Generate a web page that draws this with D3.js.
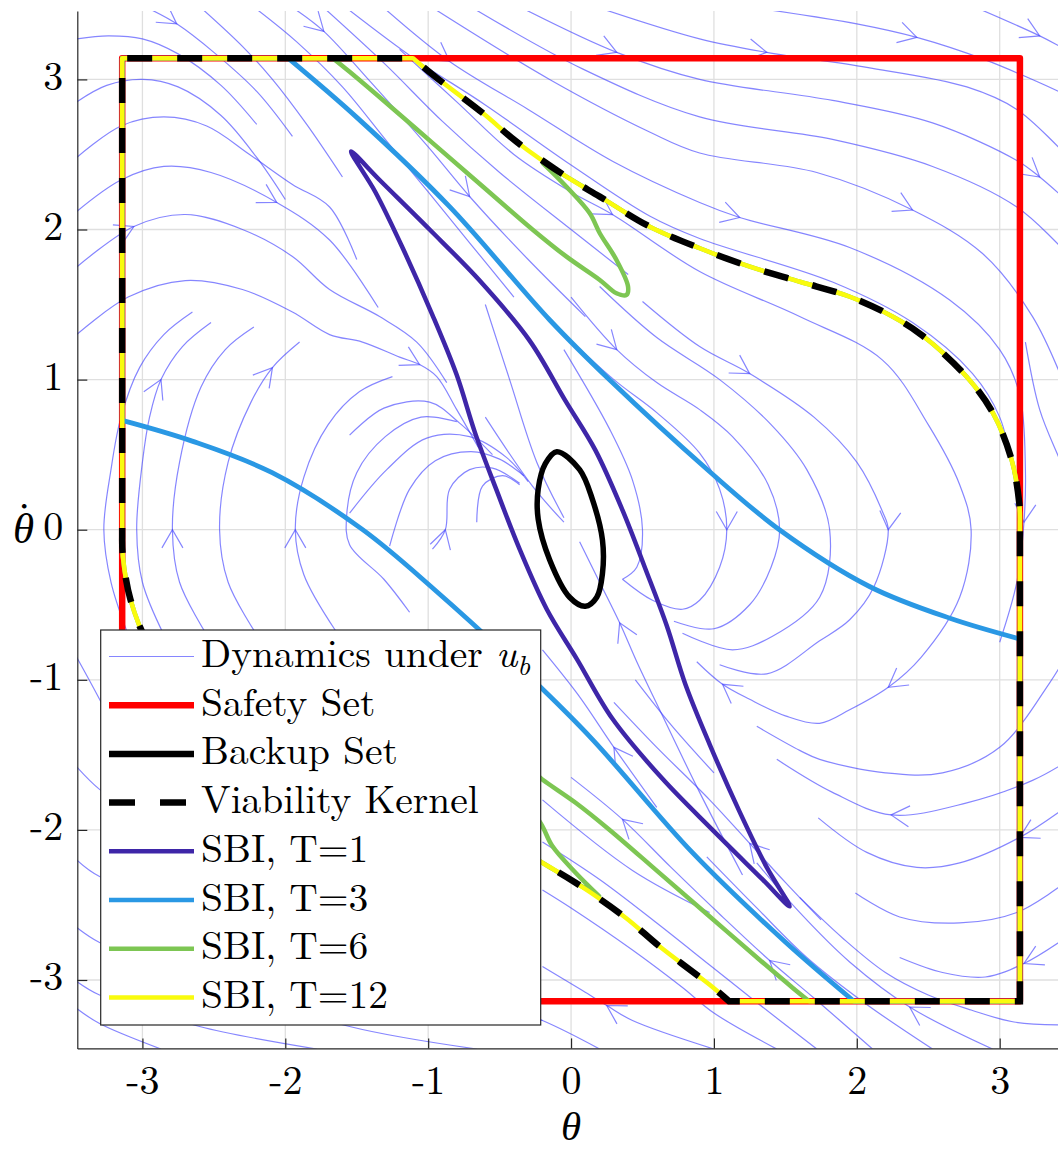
<!DOCTYPE html>
<html>
<head>
<meta charset="utf-8">
<script src="https://cdn.jsdelivr.net/npm/d3@7"></script>
<style>
  body { margin: 0; background: #fff; }
  text { font-family: "CMU Serif", "Latin Modern Roman", "Liberation Serif", "Times New Roman", serif; fill: #000; }
</style>
</head>
<body>
<svg id="chart" width="1058" height="1153"></svg>
<script>
const PI = Math.PI;

// ---- data (theta, theta_dot) ----
const tickValues = [-3, -2, -1, 0, 1, 2, 3];

// corners of the safety set [-pi, pi] x [-pi, pi]
const safetySet = [[-PI, PI], [PI, PI], [PI, -PI], [-PI, -PI]];

const backupSet = [[-0.10, 0.52], [0.06, 0.40], [0.15, 0.20], [0.22, -0.07], [0.22, -0.29], [0.18, -0.45],
  [0.10, -0.51], [-0.01, -0.45], [-0.15, -0.20], [-0.23, 0.07], [-0.23, 0.27], [-0.18, 0.44]];

// curved branches of the viability kernel (the rest runs along the safety set)
const kernelUpper = [[-1.106, PI], [-0.966, 3.029], [-0.616, 2.774], [-0.382, 2.585], [-0.032, 2.352],
  [0.201, 2.219], [0.551, 2.019], [0.901, 1.875], [1.252, 1.752], [1.602, 1.652], [1.952, 1.552],
  [2.253, 1.419], [2.45, 1.30], [2.769, 1.019], [2.953, 0.777], [3.084, 0.464], [3.137, 0.178], [PI, 0.05]];
const kernelLower = [[1.106, -PI], [0.966, -3.029], [0.616, -2.774], [0.382, -2.585], [0.032, -2.352],
  [-0.201, -2.219], [-0.551, -2.019], [-0.901, -1.875], [-1.252, -1.752], [-1.602, -1.652], [-1.952, -1.552],
  [-2.253, -1.419], [-2.45, -1.30], [-2.769, -1.019], [-2.953, -0.777], [-3.084, -0.464], [-3.137, -0.178], [-PI, -0.05]];

// SBI, T=12 lies on the kernel
const sbiT12Upper = kernelUpper;
const sbiT12Lower = kernelLower;

// SBI, T=6: notch branch, then the rim that follows the kernel
const sbiT6UpperNotch = [[-1.667, PI], [-1.550, 3.051], [-1.317, 2.863], [-0.966, 2.574], [-0.616, 2.285], [-0.266, 1.997],
  [-0.032, 1.819], [0.201, 1.664], [0.318, 1.575], [0.388, 1.564], [0.399, 1.619], [0.318, 1.797], [0.201, 1.975],
  [0.131, 2.108], [-0.032, 2.285], [-0.196, 2.441]];
const sbiT6UpperRim = [[-0.196, 2.441], [-0.032, 2.352], [0.201, 2.219], [0.551, 2.019], [0.901, 1.875],
  [1.252, 1.752], [1.602, 1.652], [1.952, 1.552], [2.253, 1.419], [2.45, 1.30], [2.769, 1.019], [2.953, 0.777],
  [3.084, 0.464], [3.137, 0.178], [PI, 0.05]];
const sbiT6LowerNotch = [[1.667, -PI], [1.550, -3.051], [1.317, -2.863], [0.966, -2.574], [0.616, -2.285], [0.266, -1.997],
  [0.032, -1.819], [-0.201, -1.664], [-0.318, -1.575], [-0.388, -1.564], [-0.399, -1.619], [-0.318, -1.797], [-0.201, -1.975],
  [-0.131, -2.108], [0.032, -2.285], [0.196, -2.441]];
const sbiT6LowerRim = [[0.196, -2.441], [0.032, -2.352], [-0.201, -2.219], [-0.551, -2.019], [-0.901, -1.875],
  [-1.252, -1.752], [-1.602, -1.652], [-1.952, -1.552], [-2.253, -1.419], [-2.45, -1.30], [-2.769, -1.019], [-2.953, -0.777],
  [-3.084, -0.464], [-3.137, -0.178], [-PI, -0.05]];

// SBI, T=3
const sbiT3Upper = [[-1.98, PI], [-1.494, 2.742], [-0.850, 2.152], [-0.149, 1.397], [0.271, 0.997], [0.957, 0.398],
  [1.461, -0.002], [2.092, -0.380], [2.652, -0.590], [PI, -0.728]];
const sbiT3Lower = [[1.98, -PI], [1.494, -2.742], [0.850, -2.152], [0.149, -1.397], [-0.271, -0.997], [-0.957, -0.398],
  [-1.461, 0.002], [-2.092, 0.380], [-2.652, 0.590], [-PI, 0.728]];

// SBI, T=1 (closed loop)
const sbiT1 = [[-1.54, 2.52], [-1.34, 2.33], [-0.99, 2.00], [-0.64, 1.66], [-0.29, 1.26], [-0.04, 0.86], [0.17, 0.53],
  [0.36, 0.13], [0.52, -0.26], [0.67, -0.64], [0.80, -1.03], [0.97, -1.43], [1.18, -1.88], [1.37, -2.25], [1.53, -2.51],
  [1.34, -2.33], [0.99, -2.00], [0.64, -1.66], [0.29, -1.26], [0.04, -0.86], [-0.17, -0.53], [-0.36, -0.13], [-0.52, 0.26],
  [-0.67, 0.64], [-0.80, 1.03], [-0.97, 1.43], [-1.18, 1.88], [-1.37, 2.25]];

// streamlines of the dynamics under u_b (points ordered along the flow)
const streamlines = [
  [[1.41, 3.46], [2.0, 3.37], [2.42, 3.28], [2.9, 3.13], [3.46, 2.9]],
  [[2.88, 3.46], [3.28, 3.29], [3.46, 3.2]],
  [[0.25, 3.46], [0.9, 3.27], [1.37, 3.18], [2.07, 3.08], [2.77, 2.95], [3.12, 2.8], [3.46, 2.5]],
  [[-0.31, 3.46], [0.32, 3.18], [0.9, 3.0], [1.83, 2.86], [2.53, 2.71], [3.12, 2.46], [3.28, 2.35], [3.46, 2.2]],
  [[-0.66, 3.46], [0.08, 3.07], [0.9, 2.75], [1.83, 2.6], [2.53, 2.42], [3.12, 2.15], [3.46, 1.85]],
  [[-0.94, 3.46], [-0.15, 3.0], [0.55, 2.65], [0.9, 2.51], [1.72, 2.38], [2.39, 2.13], [2.88, 1.84], [3.23, 1.42], [3.46, 0.95]],
  [[-1.29, 3.46], [-0.85, 3.12], [-0.3, 2.8], [0.3, 2.45], [0.9, 2.18], [1.18, 2.08], [1.95, 1.88], [2.65, 1.53], [3.0, 1.2],
    [3.14, 0.9], [3.18, 0.4], [3.17, 0.05], [3.12, -0.35], [3.0, -0.75]],
  [[-1.55, 3.46], [-1.1, 3.14], [-0.6, 2.83], [0.0, 2.43], [0.55, 2.09], [0.9, 1.94], [1.83, 1.65], [2.39, 1.38], [2.81, 1.04],
    [3.0, 0.75], [3.1, 0.35]],
  [[-2.93, 3.46], [-2.76, 3.37], [-2.5, 3.18], [-2.2, 2.92], [-1.95, 2.62]],
  [[-2.57, 3.46], [-2.3, 3.22], [-2.09, 3.0], [-1.85, 2.7], [-1.6, 2.35]],
  [[-2.19, 3.46], [-1.92, 3.25], [-1.6, 2.95], [-1.3, 2.6], [-1.0, 2.25], [-0.7, 1.9], [-0.4, 1.55]],
  [[-1.92, 3.46], [-1.73, 3.32], [-1.4, 2.98], [-1.0, 2.55], [-0.71, 2.22], [-0.3, 1.8], [0.1, 1.42]],
  [[-1.71, 3.46], [-1.3, 3.1], [-0.9, 2.72], [-0.5, 2.38], [0.0, 2.0], [0.4, 1.7]],
  [[-0.1, 1.35], [0.3, 1.0], [0.6, 0.78], [0.9, 0.51], [1.04, 0.27], [1.09, 0.0], [1.04, -0.25], [0.9, -0.47], [0.78, -0.53],
    [0.57, -0.47], [0.36, -0.33]],
  [[0.0, 1.55], [0.32, 1.2], [0.6, 0.98], [0.9, 0.8], [1.13, 0.62], [1.38, 0.3], [1.46, 0.0], [1.4, -0.25], [1.25, -0.5],
    [1.0, -0.66], [0.72, -0.61]],
  [[0.2, 1.62], [0.6, 1.28], [1.04, 1.0], [1.4, 0.7], [1.65, 0.4], [1.81, 0.0], [1.74, -0.45], [1.41, -0.71], [1.13, -0.8],
    [0.78, -0.69]],
  [[0.5, 1.52], [0.9, 1.22], [1.25, 1.04], [1.7, 0.75], [2.0, 0.45], [2.18, 0.12], [2.22, 0.0], [2.12, -0.38], [1.95, -0.6],
    [1.74, -0.74], [1.37, -0.96], [1.04, -0.9]],
  [[-1.2, 3.2], [-0.8, 2.85], [-0.4, 2.5], [0.0, 2.25], [0.29, 2.1], [0.9, 1.72], [1.6, 1.42], [2.18, 1.13], [2.5, 0.7],
    [2.72, 0.3], [2.8, 0.0], [2.72, -0.45], [2.45, -0.85], [2.22, -1.05], [1.95, -1.2], [1.74, -1.29], [1.5, -1.24],
    [1.25, -1.13], [1.06, -1.03], [0.88, -0.88]],
  [[-3.46, 3.27], [-3.24, 3.29], [-3.0, 3.27], [-2.75, 3.17], [-2.45, 2.96], [-2.2, 2.7]],
  [[-3.46, 2.85], [-3.25, 2.96], [-3.0, 3.0], [-2.75, 2.95], [-2.45, 2.76], [-2.2, 2.48], [-2.0, 2.2]],
  [[-3.46, 2.48], [-3.15, 2.69], [-2.85, 2.75], [-2.55, 2.69], [-2.25, 2.5], [-1.95, 2.3], [-1.69, 2.15], [-1.5, 1.8]],
  [[-3.46, 2.12], [-3.15, 2.33], [-2.85, 2.42], [-2.52, 2.38], [-2.06, 2.18], [-1.69, 1.93], [-1.35, 1.48]],
  [[-3.46, 1.75], [-3.06, 2.02], [-2.7, 2.1], [-2.3, 2.0], [-1.95, 1.82], [-1.69, 1.6], [-1.34, 1.42], [-1.08, 1.25],
    [-0.87, 0.98]],
  [[-3.46, 1.3], [-3.1, 1.55], [-2.7, 1.66], [-2.3, 1.6], [-1.95, 1.45], [-1.69, 1.3], [-1.46, 1.25], [-1.2, 1.15],
    [-1.06, 1.1], [-0.94, 1.02], [-0.8, 0.8], [-0.65, 0.55]],
  [[-3.1, -0.7], [-3.22, -0.35], [-3.27, 0.0], [-3.22, 0.4], [-3.15, 0.75], [-3.02, 1.08], [-2.85, 1.3], [-2.65, 1.45]],
  [[-2.85, -0.7], [-3.0, -0.35], [-3.04, 0.0], [-3.0, 0.45], [-2.95, 0.75], [-2.87, 1.0], [-2.72, 1.22], [-2.52, 1.38]],
  [[-2.55, -0.7], [-2.74, -0.35], [-2.79, 0.0], [-2.74, 0.45], [-2.59, 0.95], [-2.42, 1.2], [-2.22, 1.35]],
  [[-2.2, -0.7], [-2.4, -0.35], [-2.46, 0.0], [-2.4, 0.45], [-2.24, 0.85], [-2.09, 1.08], [-1.9, 1.25]],
  [[-1.65, -0.67], [-1.87, -0.3], [-1.93, 0.0], [-1.87, 0.35], [-1.7, 0.7], [-1.48, 0.92], [-1.25, 1.02]],
  [[-1.13, -0.55], [-1.31, -0.33], [-1.55, -0.1], [-1.57, 0.1], [-1.5, 0.38], [-1.3, 0.62], [-1.05, 0.75], [-0.8, 0.72]],
  [[-0.97, -0.13], [-0.88, 0.0], [-0.85, 0.27], [-0.71, 0.4], [-0.55, 0.41], [-0.36, 0.31]],
  [[-1.27, -0.11], [-1.13, 0.27], [-0.95, 0.46], [-0.7, 0.52], [-0.5, 0.47], [-0.33, 0.36]],
  [[-1.55, 0.11], [-1.29, 0.4], [-1.01, 0.61], [-0.71, 0.62], [-0.45, 0.48], [-0.3, 0.32]],
  [[-1.55, 0.63], [-1.31, 0.81], [-0.99, 0.85], [-0.78, 0.71], [-0.55, 0.5]],
  [[-0.66, 0.05], [-0.62, 0.29], [-0.48, 0.36], [-0.36, 0.3]],
  [[-0.6, 0.75], [-0.27, 0.29], [-0.05, 0.05]],
  [[1.2, -2.3], [0.9, -1.75], [0.62, -1.2], [0.46, -0.88], [0.34, -0.62], [0.2, -0.35], [0.06, -0.08]],
  [[-0.6, 1.5], [-0.43, 1.0], [-0.24, 0.45], [-0.05, 0.08]],
  [[-0.05, 1.2], [0.27, 0.67], [0.43, 0.33], [0.5, 0.0], [0.46, -0.25], [0.36, -0.33]],
  [[3.46, -1.55], [3.23, -1.67], [2.77, -1.82], [2.24, -1.9], [1.83, -1.75], [1.44, -1.53]],
  [[3.46, -1.85], [3.14, -2.05], [2.72, -2.22], [2.42, -2.25], [2.07, -2.15], [1.73, -1.92]],
  [[3.46, -2.35], [3.12, -2.55], [2.72, -2.62], [2.3, -2.58], [1.99, -2.42]],
  [[3.46, -2.72], [3.17, -2.89], [2.9, -2.98], [2.6, -2.95], [2.3, -2.85]],
  [[3.46, -3.3], [3.1, -3.28], [2.8, -3.2], [2.5, -3.1], [2.2, -2.95], [1.9, -2.72], [1.6, -2.45]],
  [[2.95, -3.46], [2.37, -3.18], [1.95, -2.88], [1.6, -2.55], [1.3, -2.22]],
  [[2.53, -3.46], [2.05, -3.15], [1.65, -2.85], [1.3, -2.52], [0.95, -2.18]],
  [[2.11, -3.46], [1.7, -3.12], [1.39, -2.87], [1.05, -2.57], [0.7, -2.25], [0.36, -1.93], [0.0, -1.65]],
  [[1.72, -3.46], [1.3, -3.15], [0.97, -2.9], [0.6, -2.62], [0.2, -2.33], [-0.2, -2.08]],
  [[1.44, -3.46], [1.0, -3.22], [0.78, -3.05], [0.43, -2.8], [0.0, -2.52], [-0.2, -2.4]],
  [[1.0, -3.46], [0.43, -3.27], [0.25, -3.17], [0.08, -3.07], [-0.2, -2.91]],
  [[0.2, -3.46], [-0.2, -3.27], [-0.7, -3.1]],
  [[1.75, -2.6], [1.5, -2.35], [1.25, -2.09], [0.97, -1.8], [0.6, -1.45], [0.3, -1.15]],
  [[0.97, -2.55], [0.43, -2.27], [-0.2, -1.8]],
  [[3.18, 1.25], [3.28, 0.8], [3.41, 0.49], [3.46, 0.38]],
  [[3.46, -0.85], [3.35, -1.02], [3.0, -1.45], [2.6, -1.62], [2.2, -1.62], [1.74, -1.53], [1.6, -1.47], [1.3, -1.31]],
  [[0.6, -1.85], [0.3, -1.45], [0.05, -1.1], [-0.2, -0.8]],
  [[1.0, -1.62], [0.7, -1.3], [0.45, -1.0]],
  [[-0.66, -3.46], [-1.55, -3.31], [-2.4, -3.05], [-3.0, -2.85], [-3.3, -2.75], [-3.46, -2.65]],
  [[-1.78, -3.46], [-2.6, -3.31], [-3.0, -3.18], [-3.3, -3.1], [-3.46, -3.01]],
  [[-2.87, -3.46], [-3.3, -3.29], [-3.46, -3.19]],
  [[-0.2, -3.27], [-1.0, -3.02], [-2.0, -2.7], [-2.8, -2.45], [-3.3, -2.31], [-3.46, -2.2]],
  [[-0.5, -2.85], [-1.5, -2.5], [-2.5, -2.1], [-3.1, -1.85], [-3.3, -1.73], [-3.46, -1.58]],
  [[-3.05, -1.6], [-3.3, -1.13], [-3.46, -0.85]]
];

// arrowheads: [streamline index, point index]
const streamArrows = [[0, 2], [1, 1], [2, 2], [3, 1], [3, 6], [5, 5], [6, 1], [6, 5], [6, 11], [8, 1], [11, 1], [11, 4],
  [13, 5], [14, 1], [16, 2], [16, 6], [17, 4], [17, 13], [17, 18], [21, 4], [22, 1], [23, 8], [25, 5], [26, 2], [27, 5],
  [28, 2], [30, 1], [36, 4], [39, 3], [40, 1], [42, 1], [44, 1], [46, 2], [46, 5], [49, 2], [51, 2], [55, 1]];

const legendLabels = ["Dynamics under ", "Safety Set", "Backup Set", "Viability Kernel", "SBI, T=1", "SBI, T=3", "SBI, T=6", "SBI, T=12"];
const sbiColors = ["#3e26a8", "#2a98e4", "#7dc653", "#f9fb0e"];

// ---- layout ----
const svg = d3.select('#chart');
const margin = { left: 77.3, right: 1064.8, top: 11, bottom: 1048.4 };
const lim = 1.1 * PI;

const x = d3.scaleLinear().domain([-lim, lim]).range([margin.left, margin.right]);
const y = d3.scaleLinear().domain([-lim, lim]).range([margin.bottom, margin.top]);

svg.append('defs').append('clipPath').attr('id', 'plotClip')
  .append('rect')
  .attr('x', margin.left).attr('y', margin.top)
  .attr('width', margin.right - margin.left).attr('height', margin.bottom - margin.top);

// grid
const grid = svg.append('g').attr('stroke', '#dfdfdf').attr('stroke-width', 1.3);
grid.selectAll('.gx').data(tickValues).enter().append('line')
  .attr('x1', d => x(d)).attr('x2', d => x(d)).attr('y1', margin.top).attr('y2', margin.bottom);
grid.selectAll('.gy').data(tickValues).enter().append('line')
  .attr('y1', d => y(d)).attr('y2', d => y(d)).attr('x1', margin.left).attr('x2', margin.right);

const plot = svg.append('g').attr('clip-path', 'url(#plotClip)');

const smooth = d3.line().x(d => x(d[0])).y(d => y(d[1])).curve(d3.curveCatmullRom.alpha(0.5));
const straight = d3.line().x(d => x(d[0])).y(d => y(d[1]));
const closedSmooth = d3.line().x(d => x(d[0])).y(d => y(d[1])).curve(d3.curveCatmullRomClosed.alpha(0.5));

// chain pieces: single points are straight joins to a corner, arrays are smooth branches
function chain(pieces) {
  let s = '';
  pieces.forEach((p, i) => {
    if (typeof p[0] === 'number') {
      s += (i === 0 ? 'M' : 'L') + x(p[0]) + ',' + y(p[1]);
    } else {
      const seg = smooth(p);
      s += i === 0 ? seg : 'L' + seg.slice(1);
    }
  });
  return s + 'Z';
}

// streamlines
const streamColor = 'rgba(60,60,255,0.62)';
plot.append('g').selectAll('path').data(streamlines).enter().append('path')
  .attr('d', smooth).attr('fill', 'none').attr('stroke', streamColor).attr('stroke-width', 1.2);

const arrowLen = 21, arrowAng = 30 * PI / 180;
plot.append('g').selectAll('path').data(streamArrows).enter().append('path')
  .attr('d', ([li, pi]) => {
    const pts = streamlines[li];
    const p = pts[pi], a = pts[Math.max(pi - 1, 0)], b = pts[Math.min(pi + 1, pts.length - 1)];
    const tx = x(p[0]), ty = y(p[1]);
    const ang = Math.atan2(y(b[1]) - y(a[1]), x(b[0]) - x(a[0]));
    const b1 = [tx - arrowLen * Math.cos(ang - arrowAng), ty - arrowLen * Math.sin(ang - arrowAng)];
    const b2 = [tx - arrowLen * Math.cos(ang + arrowAng), ty - arrowLen * Math.sin(ang + arrowAng)];
    return `M${b1[0]},${b1[1]}L${tx},${ty}L${b2[0]},${b2[1]}`;
  })
  .attr('fill', 'none').attr('stroke', streamColor).attr('stroke-width', 1.2);

const [cTL, cTR, cBR, cBL] = safetySet;

// safety set
plot.append('path').datum(safetySet).attr('d', d => straight(d) + 'Z')
  .attr('fill', 'none').attr('stroke', '#ff0000').attr('stroke-width', 6.5).attr('stroke-linejoin', 'round');

// backup set
plot.append('path').datum(backupSet).attr('d', closedSmooth)
  .attr('fill', 'none').attr('stroke', '#000').attr('stroke-width', 5.5);

// SBI sets
plot.append('path').datum(sbiT1).attr('d', closedSmooth)
  .attr('fill', 'none').attr('stroke', sbiColors[0]).attr('stroke-width', 4.5);
plot.append('path').attr('d', chain([cTL, sbiT3Upper, cBR, sbiT3Lower]))
  .attr('fill', 'none').attr('stroke', sbiColors[1]).attr('stroke-width', 4.8).attr('stroke-linejoin', 'round');
plot.append('path').attr('d', chain([cTL, sbiT6UpperNotch, sbiT6UpperRim, cBR, sbiT6LowerNotch, sbiT6LowerRim]))
  .attr('fill', 'none').attr('stroke', sbiColors[2]).attr('stroke-width', 4.5).attr('stroke-linejoin', 'round');
plot.append('path').attr('d', chain([cTL, sbiT12Upper, cBR, sbiT12Lower]))
  .attr('fill', 'none').attr('stroke', sbiColors[3]).attr('stroke-width', 4.5).attr('stroke-linejoin', 'round');

// viability kernel
plot.append('path').attr('d', chain([cTL, kernelUpper, cBR, kernelLower]))
  .attr('fill', 'none').attr('stroke', '#000').attr('stroke-width', 6.5)
  .attr('stroke-dasharray', '25,25').attr('stroke-dashoffset', -5);

// axes
const yAxis = svg.append('g').attr('transform', `translate(${margin.left},0)`)
  .call(d3.axisLeft(y).tickValues(tickValues).tickFormat(d => String(d)).tickSizeInner(-10).tickSizeOuter(0).tickPadding(14));
const xAxis = svg.append('g').attr('transform', `translate(0,${margin.bottom})`)
  .call(d3.axisBottom(x).tickValues(tickValues).tickFormat(d => String(d)).tickSizeInner(-10).tickSizeOuter(0));
[yAxis, xAxis].forEach(ax => {
  ax.attr('font-family', null);
  ax.select('.domain').attr('stroke', '#262626').attr('stroke-width', 1.2);
  ax.selectAll('.tick line').attr('stroke', '#262626').attr('stroke-width', 1.2);
  ax.selectAll('.tick text').attr('font-size', 40).attr('fill', '#262626');
});
yAxis.selectAll('.tick text').attr('dy', '0.25em');
xAxis.selectAll('.tick text').attr('y', 46).attr('dy', 0);

// axis labels
svg.append('text').attr('x', x(0)).attr('y', 1140).attr('text-anchor', 'middle')
  .attr('font-size', 41).attr('font-style', 'italic').text('θ');
const yl = svg.append('text').attr('x', 13).attr('y', 543).attr('font-size', 43);
yl.append('tspan').attr('font-style', 'italic').text('θ');
yl.append('tspan').attr('dx', -16).attr('dy', -11).text('\u02D9');

// legend
const lg = svg.append('g');
lg.append('rect').attr('x', 100.7).attr('y', 630).attr('width', 440).attr('height', 395)
  .attr('fill', '#fff').attr('stroke', '#262626').attr('stroke-width', 1.2);
const legendStyles = [
  { stroke: streamColor, w: 1.2 },
  { stroke: '#ff0000', w: 6.5 },
  { stroke: '#000', w: 6.5 },
  { stroke: '#000', w: 6.5, dash: '26,25' },
  { stroke: sbiColors[0], w: 4.5 },
  { stroke: sbiColors[1], w: 4.5 },
  { stroke: sbiColors[2], w: 4.5 },
  { stroke: sbiColors[3], w: 4.5 }
];
const rows = lg.selectAll('.row').data(legendLabels).enter().append('g')
  .attr('transform', (d, i) => `translate(0,${656.5 + i * 48.7})`);
rows.append('line').attr('x1', 109).attr('x2', 194).attr('y1', 0).attr('y2', 0)
  .attr('stroke', (d, i) => legendStyles[i].stroke)
  .attr('stroke-width', (d, i) => legendStyles[i].w)
  .attr('stroke-dasharray', (d, i) => legendStyles[i].dash || null);
const lt = rows.append('text').attr('x', 201).attr('y', 10.5).attr('font-size', 39.5).text(d => d);
lt.filter((d, i) => i === 0).append('tspan').attr('font-style', 'italic').text('u');
lt.filter((d, i) => i === 0).append('tspan').attr('font-style', 'italic').attr('font-size', 28).attr('dy', 8).text('b');
</script>
</body>
</html>
